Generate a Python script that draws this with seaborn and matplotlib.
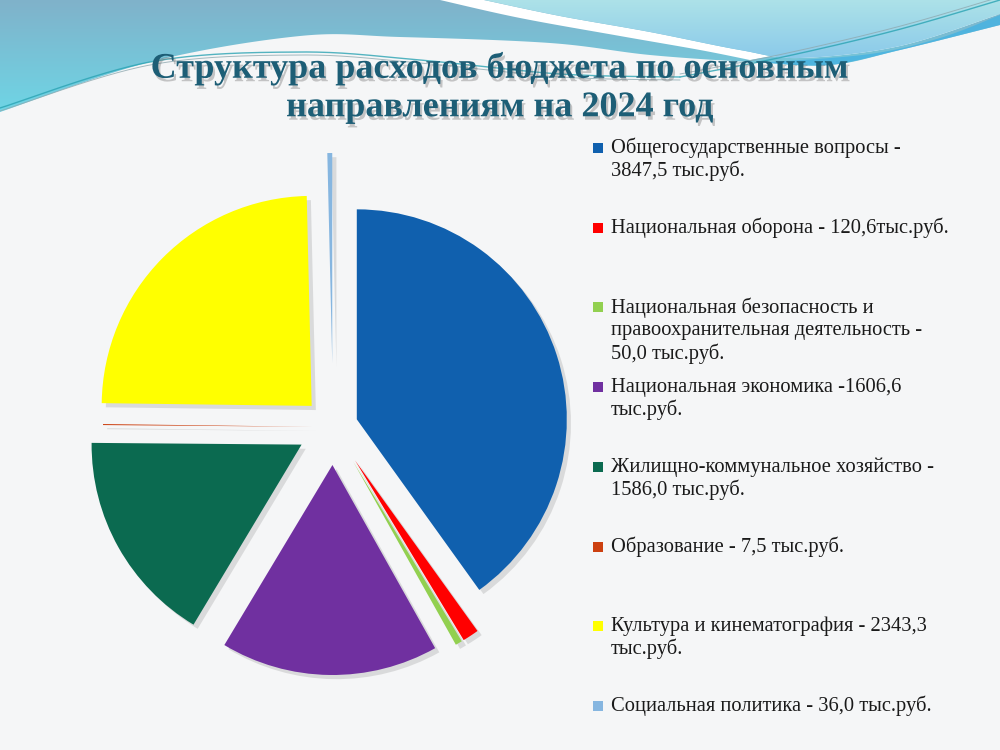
import numpy as np
import matplotlib
matplotlib.use("Agg")
import matplotlib.pyplot as plt
import matplotlib.patheffects as pe
from matplotlib.patches import Polygon
from matplotlib.colors import LinearSegmentedColormap
import seaborn as sns

# budget items (тыс.руб.), clockwise from 12 o'clock
categories = [
    "Общегосударственные вопросы",
    "Национальная оборона",
    "Национальная безопасность и правоохранительная деятельность",
    "Национальная экономика",
    "Жилищно-коммунальное хозяйство",
    "Образование",
    "Культура и кинематография",
    "Социальная политика",
]
values = [3847.5, 120.6, 50.0, 1606.6, 1586.0, 7.5, 2343.3, 36.0]
legend_labels = [
    "Общегосударственные вопросы -\n3847,5 тыс.руб.",
    "Национальная оборона - 120,6тыс.руб.",
    "Национальная безопасность и\nправоохранительная деятельность -\n50,0 тыс.руб.",
    "Национальная экономика -1606,6\nтыс.руб.",
    "Жилищно-коммунальное хозяйство -\n1586,0 тыс.руб.",
    "Образование - 7,5 тыс.руб.",
    "Культура и кинематография - 2343,3\nтыс.руб.",
    "Социальная политика - 36,0 тыс.руб.",
]
title = "Структура расходов бюджета по основным\nнаправлениям на 2024 год"

colors = ["#1060ae", "#ff0000", "#92d050", "#7030a0",
          "#0b6a50", "#cc4010", "#ffff00", "#86b6e0"]
# slice offsets (pixels)
explode = [25, 40, 40, 38, 36, 20, 30, 64]

W, H = 1000, 750
sns.set_theme(style="white")
plt.rcParams["font.family"] = ["Liberation Serif", "DejaVu Serif"]


def Y(y):
    # layout given in screen pixels (y down)
    return H - y


def spline(pts, n=300):
    # Catmull-Rom through the control points, for the decorative waves
    p = np.array(pts, dtype=float)
    p = np.vstack([p[0], p, p[-1]])
    out = []
    for i in range(1, len(p) - 2):
        p0, p1, p2, p3 = p[i - 1], p[i], p[i + 1], p[i + 2]
        t = np.linspace(0, 1, n // (len(p) - 3), endpoint=False)[:, None]
        out.append(0.5 * ((2 * p1) + (-p0 + p2) * t + (2 * p0 - 5 * p1 + 4 * p2 - p3) * t ** 2
                          + (-p0 + 3 * p1 - 3 * p2 + p3) * t ** 3))
    out.append(p[-2][None, :])
    c = np.vstack(out)
    return c[:, 0], Y(c[:, 1])


def grad_fill(ax, xs, ys, c_top, c_bot, y0, y1, z, alpha=1.0):
    poly = Polygon(np.column_stack([xs, ys]), closed=True, facecolor="none", edgecolor="none")
    ax.add_patch(poly)
    cmap = LinearSegmentedColormap.from_list("g", [c_bot, c_top])
    g = np.linspace(0, 1, 256)[:, None] * np.ones((1, 4))
    im = ax.imshow(g, cmap=cmap, origin="lower", extent=(0, W, Y(y1), Y(y0)),
                   aspect="auto", zorder=z, alpha=alpha)
    im.set_clip_path(poly)


fig = plt.figure(figsize=(10, 7.5), dpi=100)
fig.patch.set_facecolor("#f5f6f7")
ax = fig.add_axes([0, 0, 1, 1])
ax.set_facecolor("#f5f6f7")

# ---- decorative header waves ----
bx, by = spline([(0, 112), (150, 62), (300, 36), (400, 37), (550, 43), (650, 55),
                 (750, 62), (830, 65), (900, 50), (1000, 25)])
grad_fill(ax, np.r_[bx, W, 0], np.r_[by, H, H], "#80b2ca", "#6ed6e6", 0, 115, 0)

wx, wy = spline([(440, 0), (520, 18), (620, 36), (700, 50), (750, 60)])
cx_, cy_ = spline([(484, 0), (560, 16), (650, 32), (740, 50), (800, 58), (900, 46), (1000, 14)])
ax.fill(np.r_[wx, cx_[::-1]], np.r_[wy, cy_[::-1]], color="white", zorder=1, lw=0)
grad_fill(ax, np.r_[cx_, W, 484], np.r_[cy_, H, H], "#ade2e8", "#88c8ea", 0, 62, 2)

ux, uy = spline([(770, 62), (870, 54), (940, 38), (1000, 15)])
lx, ly = spline([(770, 63), (830, 65), (900, 50), (1000, 25)])
ax.fill(np.r_[ux, lx[::-1]], np.r_[uy, ly[::-1]], color="#45b2e2", alpha=0.8, zorder=3, lw=0)

for dy, col, lw in [(0, "#2aa3b3", 1.0), (3, "#8fa9b0", 0.7)]:
    x1, y1 = spline([(0, 108 + dy), (150, 62 + dy), (300, 52 + dy), (420, 60 + dy),
                     (560, 74 + dy), (680, 77 + dy)])
    ax.plot(x1, y1, color=col, lw=lw, zorder=4, alpha=0.8)
    x2, y2 = spline([(680, 77 - dy), (783, 57 - dy), (897, 30 - dy), (1000, 0 - dy)])
    ax.plot(x2, y2, color=col, lw=lw, zorder=4, alpha=0.8)

# ---- pie ----
wedges, _ = ax.pie(values, colors=colors, explode=explode, startangle=90,
                   counterclock=False, radius=210, center=(333, Y(427)),
                   wedgeprops=dict(linewidth=0))
for w in wedges:
    w.set_zorder(5)
    w.set_path_effects([pe.SimplePatchShadow(offset=(3, -3), shadow_rgbFace="#888888", alpha=0.25),
                        pe.Normal()])

# ---- legend (evenly spaced entries, as in the slide) ----
for i, (lab, col) in enumerate(zip(legend_labels, colors)):
    y0 = 148 + i * 79.7
    ax.scatter([598], [Y(y0)], marker="s", s=48, color=col, zorder=6, linewidths=0)
    for j, line in enumerate(lab.split("\n")):
        ax.text(611, Y(y0 + j * 23), line, fontsize=14.8, color="#1a1a1a",
                va="center", ha="left", zorder=6)

# ---- title ----
ax.text(500, Y(88), title, fontsize=26, fontweight="bold", color="#1d5e76",
        ha="center", va="center", linespacing=1.22, zorder=7,
        path_effects=[pe.SimplePatchShadow(offset=(1.5, -2.5), shadow_rgbFace="#666666", alpha=0.35),
                      pe.Normal()])

ax.set_xlim(0, W)
ax.set_ylim(0, H)
ax.set_aspect("equal")
ax.axis("off")
fig.savefig("out.png", dpi=100, facecolor=fig.get_facecolor())
